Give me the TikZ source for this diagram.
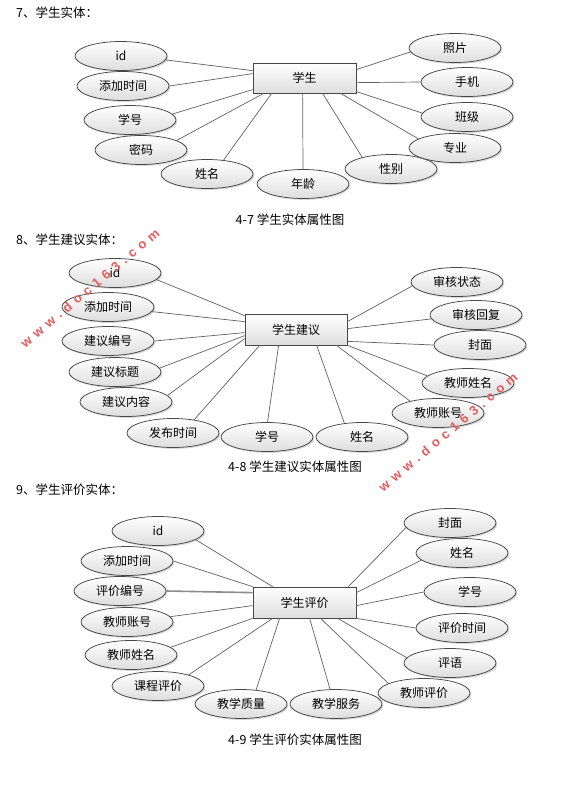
\documentclass[tikz,border=0pt]{standalone}
\usepackage{fontspec}
\setmainfont{Noto Sans CJK SC}
\newfontfamily\wmfont[LetterSpace=40]{Liberation Sans}
\usetikzlibrary{shapes.geometric,shadows,calc}
\definecolor{wmred}{RGB}{228,92,92}
\begin{document}
\begin{tikzpicture}[x=1pt,y=-1pt,
  every node/.style={font=\fontsize{12}{14}\selectfont},
  attr/.style={ellipse, draw=black!72, line width=0.75pt, top color=white, bottom color=black!13,
    minimum width=92pt, minimum height=29pt, inner sep=0pt,
    drop shadow={shadow xshift=1.4pt, shadow yshift=-1.4pt, opacity=0.3}},
  ent/.style={rectangle, draw=black!72, line width=0.75pt, top color=white, bottom color=black!13,
    minimum width=103pt, minimum height=30pt, inner sep=0pt,
    drop shadow={shadow xshift=1.4pt, shadow yshift=-1.4pt, opacity=0.3}},
  link/.style={draw=black!62, line width=0.7pt},
  headtxt/.style={anchor=west, inner sep=0pt, font=\fontsize{12.5}{14}\selectfont},
  captxt/.style={inner sep=0pt, font=\fontsize{12.5}{14}\selectfont},
  wmtxt/.style={rotate=40, inner sep=0pt, text=wmred, font=\wmfont\bfseries\fontsize{13}{13}\selectfont}
]
\fill[white] (0,0) rectangle (563,787);
\useasboundingbox (0,0) rectangle (563,787);

% ---------- Section 7 ----------
\node[headtxt] (h1) at (16,13) {7、学生实体：};
\node[ent] (s1) at (304.5,78) {学生};
\node[attr] (a1) at (121,56) {id};
\node[attr] (a2) at (123,86) {添加时间};
\node[attr] (a3) at (130,120) {学号};
\node[attr] (a4) at (141,150) {密码};
\node[attr] (a5) at (207,174) {姓名};
\node[attr] (a6) at (303,184) {年龄};
\node[attr] (a7) at (391,169) {性别};
\node[attr] (a8) at (455,148) {专业};
\node[attr] (a9) at (467,117) {班级};
\node[attr] (a10) at (467,82) {手机};
\node[attr] (a11) at (455,48) {照片};
\draw[link] (a1.-5) -- ($(s1.north west)+(0,8)$);
\draw[link] (a2.east) -- ($(s1.north west)+(0,11)$);
\draw[link] (a3.8) -- ($(s1.north west)+(0,27)$);
\draw[link] (a4.15) -- ($(s1.south west)+(11,0)$);
\draw[link] (a5.40) -- ($(s1.south west)+(19,0)$);
\draw[link] (a6.north) -- ($(s1.south west)+(50,0)$);
\draw[link] (a7.158) -- ($(s1.south west)+(70,0)$);
\draw[link] (a8.166) -- ($(s1.south west)+(88,0)$);
\draw[link] (a9.175) -- ($(s1.north east)+(0,29)$);
\draw[link] (a10.west) -- ($(s1.north east)+(0,20)$);
\draw[link] (a11.185) -- ($(s1.north east)+(0,7)$);
\node[captxt] (t1) at (290,220) {4-7 学生实体属性图};

% ---------- Section 8 ----------
\node[headtxt] (h2) at (16,240) {8、学生建议实体：};
\node[ent, minimum width=102pt, minimum height=31pt] (s2) at (296,329.5) {学生建议};
\node[attr] (b1) at (115,273) {id};
\node[attr] (b2) at (108,307) {添加时间};
\node[attr] (b3) at (108,341) {建议编号};
\node[attr] (b4) at (115,372) {建议标题};
\node[attr] (b5) at (126,402) {建议内容};
\node[attr] (b6) at (173,433) {发布时间};
\node[attr] (b7) at (267,437) {学号};
\node[attr] (b8) at (362,437) {姓名};
\node[attr] (b9) at (438,413) {教师账号};
\node[attr] (b10) at (468,383) {教师姓名};
\node[attr] (b11) at (480,345) {封面};
\node[attr] (b12) at (476,315) {审核回复};
\node[attr] (b13) at (457,282) {审核状态};
\draw[link] (b1.-9) -- ($(s2.north west)+(0,2)$);
\draw[link] (b2.-6) -- ($(s2.north west)+(0,8)$);
\draw[link] (b3.east) -- ($(s2.north west)+(0,19)$);
\draw[link] (b4.5) -- ($(s2.north west)+(0,22)$);
\draw[link] (b5.9) -- ($(s2.north west)+(0,25)$);
\draw[link] (b6.32) -- ($(s2.south west)+(15,0)$);
\draw[link] (b7.88) -- ($(s2.south west)+(34,0)$);
\draw[link] (b8.142) -- ($(s2.south west)+(72,0)$);
\draw[link] (b9.157) -- ($(s2.south west)+(92,0)$);
\draw[link] (b10.170) -- (s2.south east);
\draw[link] (b11.west) -- ($(s2.south east)+(0,-4)$);
\draw[link] (b12.185) -- ($(s2.north east)+(0,15)$);
\draw[link] (b13.185) -- ($(s2.north east)+(0,8)$);
\node[captxt] (t2) at (295,467) {4-8 学生建议实体属性图};

% ---------- Section 9 ----------
\node[headtxt] (h3) at (16,490) {9、学生评价实体：};
\node[ent, minimum height=31pt] (s3) at (304.5,602.5) {学生评价};
\node[attr] (c1) at (158,531) {id};
\node[attr] (c2) at (127,561) {添加时间};
\node[attr] (c3) at (120,591) {评价编号};
\node[attr] (c4) at (127,622) {教师账号};
\node[attr] (c5) at (131,655) {教师姓名};
\node[attr] (c6) at (158,686) {课程评价};
\node[attr] (c7) at (241,704) {教学质量};
\node[attr] (c8) at (336,704) {教学服务};
\node[attr] (c9) at (424,693) {教师评价};
\node[attr] (c10) at (450,663) {评语};
\node[attr] (c11) at (462,628) {评价时间};
\node[attr] (c12) at (470,592) {学号};
\node[attr] (c13) at (462,553) {姓名};
\node[attr] (c14) at (450,523) {封面};
\draw[link] (c1.-13) -- ($(s3.north west)+(20,0)$);
\draw[link] (c2.east) -- (s3.north west);
\draw[link, line width=1.6pt, draw=black!45] (c3.east) -- ($(s3.north west)+(0,6)$);
\draw[link] (c4.7) -- ($(s3.north west)+(0,19)$);
\draw[link] (c5.11) -- (s3.south west);
\draw[link] (c6.20) -- ($(s3.south west)+(20,0)$);
\draw[link] (c7.43) -- ($(s3.south west)+(27,0)$);
\draw[link] (c8.112) -- ($(s3.south west)+(57,0)$);
\draw[link] (c9.165) -- ($(s3.south west)+(68,0)$);
\draw[link] (c10.173) -- ($(s3.south west)+(85,0)$);
\draw[link] (c11.west) -- (s3.south east);
\draw[link] (c12.west) -- ($(s3.north east)+(0,19)$);
\draw[link] (c13.190) -- ($(s3.north east)+(0,6)$);
\draw[link] (c14.186) -- ($(s3.north east)+(-8,0)$);
\node[captxt] (t3) at (295,740) {4-9 学生评价实体属性图};

% ---------- watermarks ----------
\node[wmtxt] (w1) at (90,288) {www.doc163.com};
\node[wmtxt] (w2) at (448,432) {www.doc163.com};
\end{tikzpicture}
\end{document}
